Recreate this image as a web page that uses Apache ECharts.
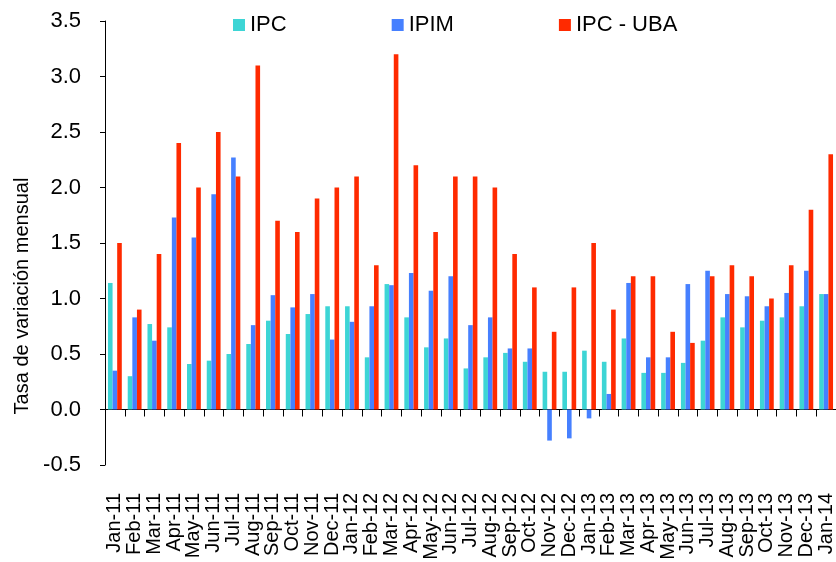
<!DOCTYPE html>
<html>
<head>
<meta charset="utf-8">
<script src="https://cdn.jsdelivr.net/npm/echarts@6/dist/echarts.min.js"></script>
<style>
html,body{margin:0;padding:0;background:#fff;}
#chart{width:836px;height:562px;}
</style>
</head>
<body>
<div id="chart"></div>
<script>
const categories = ['Jan-11','Feb-11','Mar-11','Apr-11','May-11','Jun-11','Jul-11','Aug-11','Sep-11','Oct-11','Nov-11','Dec-11',
  'Jan-12','Feb-12','Mar-12','Apr-12','May-12','Jun-12','Jul-12','Aug-12','Sep-12','Oct-12','Nov-12','Dec-12',
  'Jan-13','Feb-13','Mar-13','Apr-13','May-13','Jun-13','Jul-13','Aug-13','Sep-13','Oct-13','Nov-13','Dec-13','Jan-14'];
const ipc = [1.14,0.30,0.77,0.74,0.41,0.44,0.50,0.59,0.80,0.68,0.86,0.93,
  0.93,0.47,1.13,0.83,0.56,0.64,0.37,0.47,0.51,0.43,0.34,0.34,
  0.53,0.43,0.64,0.33,0.33,0.42,0.62,0.83,0.74,0.80,0.83,0.93,1.04];
const ipim = [0.35,0.83,0.62,1.73,1.55,1.94,2.27,0.76,1.03,0.92,1.04,0.63,
  0.79,0.93,1.12,1.23,1.07,1.20,0.76,0.83,0.55,0.55,-0.28,-0.26,
  -0.08,0.14,1.14,0.47,0.47,1.13,1.25,1.04,1.02,0.93,1.05,1.25,1.04];
const ipcUba = [1.5,0.9,1.4,2.4,2.0,2.5,2.1,3.1,1.7,1.6,1.9,2.0,
  2.1,1.3,3.2,2.2,1.6,2.1,2.1,2.0,1.4,1.1,0.7,1.1,
  1.5,0.9,1.2,1.2,0.7,0.6,1.2,1.3,1.2,1.0,1.3,1.8,2.3];
const seriesNames = ['IPC','IPIM','IPC - UBA'];
const yTicks = {min:-0.5, max:3.5, interval:0.5};
const yTitle = 'Tasa de variación mensual';

const FONT = '"Liberation Sans", Arial, sans-serif';
const chart = echarts.init(document.getElementById('chart'), null, {renderer:'canvas'});
const barBase = {type:'bar', barGap:'0%', barCategoryGap:'30%'};
chart.setOption({
  animation:false,
  textStyle:{fontFamily:FONT},
  color:['#3dd5d5','#4680ff','#ff2a00'],
  grid:{left:105, right:0, top:21, bottom:97, containLabel:false, outerBoundsMode:'none'},
  legend:{
    left:228, top:9, itemWidth:12, itemHeight:12, itemGap:105, icon:'rect',
    textStyle:{fontFamily:FONT, fontSize:22, color:'#000'},
    data:seriesNames
  },
  xAxis:{
    type:'category', data:categories, boundaryGap:true,
    axisLine:{onZero:true, lineStyle:{color:'#000', width:1}},
    axisTick:{show:true, alignWithLabel:false, inside:false, length:7, lineStyle:{color:'#000'}},
    axisLabel:{interval:0, rotate:90, margin:28, fontSize:20, color:'#000', fontFamily:FONT}
  },
  yAxis:{
    type:'value', min:yTicks.min, max:yTicks.max, interval:yTicks.interval,
    axisLine:{show:true, lineStyle:{color:'#000', width:1}},
    axisTick:{show:true, length:5, lineStyle:{color:'#000'}},
    splitLine:{show:false},
    axisLabel:{fontSize:22, color:'#000', margin:24, fontFamily:FONT, formatter:v=>v.toFixed(1)}
  },
  graphic:[{
    type:'text', x:22, y:296, rotation:Math.PI/2,
    style:{text:yTitle, fontSize:20, fontFamily:FONT, fill:'#000', textAlign:'center', textVerticalAlign:'middle'}
  }],
  series:[
    Object.assign({name:seriesNames[0], data:ipc}, barBase),
    Object.assign({name:seriesNames[1], data:ipim}, barBase),
    Object.assign({name:seriesNames[2], data:ipcUba}, barBase)
  ]
});
</script>
</body>
</html>
